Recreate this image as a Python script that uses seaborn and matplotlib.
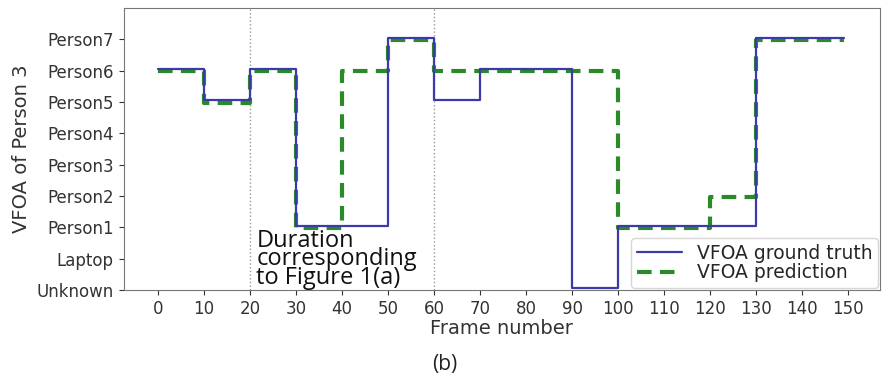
import matplotlib
matplotlib.use("Agg")
import matplotlib.pyplot as plt
import seaborn as sns
import pandas as pd

sns.set_style("ticks")
plt.rcParams['font.family'] = ['DejaVu Sans']

categories = ["Unknown", "Laptop", "Person1", "Person2", "Person3",
              "Person4", "Person5", "Person6", "Person7"]

gt_frames = [0, 10, 20, 30, 50, 60, 70, 90, 100, 130, 149]
gt_labels = ["Person6", "Person5", "Person6", "Person1", "Person7", "Person5",
             "Person6", "Unknown", "Person1", "Person7", "Person7"]

pred_frames = [0, 10, 20, 30, 40, 50, 60, 100, 120, 130, 149]
pred_labels = ["Person6", "Person5", "Person6", "Person1", "Person6", "Person7",
               "Person6", "Person1", "Person2", "Person7", "Person7"]

xticks = list(range(0, 151, 10))
marker_frames = [20, 60]

idx = {c: i for i, c in enumerate(categories)}
gt = pd.DataFrame({"frame": gt_frames, "v": [idx[l] + 0.05 for l in gt_labels]})
pr = pd.DataFrame({"frame": pred_frames, "v": [idx[l] - 0.02 for l in pred_labels]})

fig = plt.figure(figsize=(8.89, 3.82), dpi=100)
ax = fig.add_axes([0.139, 0.241, 0.851, 0.738])

sns.lineplot(data=gt, x="frame", y="v", ax=ax, color="#3a3aa8", lw=1.6,
             drawstyle="steps-post", label="VFOA ground truth", zorder=3)
sns.lineplot(data=pr, x="frame", y="v", ax=ax, color="#2a8a2a", lw=3,
             drawstyle="steps-post", linestyle=(0, (3.5, 2)),
             label="VFOA prediction", zorder=2)

for f in marker_frames:
    ax.axvline(f, color="#999999", lw=1, ls=":", zorder=1)

ax.set_ylim(0, 9)
ax.set_xlim(-7.45, 156.9)
ax.set_yticks(range(len(categories)))
ax.set_yticklabels(categories)
ax.set_xticks(xticks)
ax.tick_params(labelsize=12, colors="#333333")
ax.set_xlabel("Frame number", fontsize=14, color="#333333", labelpad=1)
ax.set_ylabel("VFOA of Person 3", fontsize=14, color="#333333", labelpad=4)
for s in ax.spines.values():
    s.set_color("#777777")

ax.text(21.4, 0.0, "Duration\ncorresponding\nto Figure 1(a)", fontsize=17,
        family="Open Sans", linespacing=0.7, va="bottom", ha="left", color="#111111")

leg = ax.legend(loc="lower right", fontsize=13.5, frameon=True, borderaxespad=0.1,
                handlelength=2.4, labelspacing=0.05, borderpad=0.3)
leg.get_frame().set_edgecolor("#cccccc")

fig.text(0.5, 0.047, "(b)", ha="center", va="center", fontsize=15, family="Open Sans",
         color="#222222")

fig.savefig("out.png", dpi=100)
